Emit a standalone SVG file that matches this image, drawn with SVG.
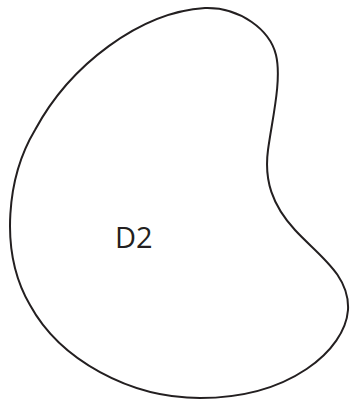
<svg xmlns="http://www.w3.org/2000/svg" width="350" height="405" viewBox="0 0 350 405">
<style>
.outline{fill:none;stroke:#231f20;stroke-width:2}
.lbl{font-family:"Open Sans","Liberation Sans",sans-serif;font-size:29px;fill:#231f20}
</style>
<rect width="350" height="405" fill="#ffffff"/>
<g id="D2">
<path class="outline" d="M 205 8 C 240 7, 270 30, 276 55 C 282 80, 272 120, 268 150 C 264 180, 272 205, 295 230 C 318 255, 350 275, 348 310 C 345 350, 290 398, 200 398 C 130 398, 60 360, 30 305 C -2 250, 8 175, 35 130 C 70 65, 140 12, 205 8 Z"/>
<text class="lbl" x="115" y="248">D2</text>
</g>
</svg>
